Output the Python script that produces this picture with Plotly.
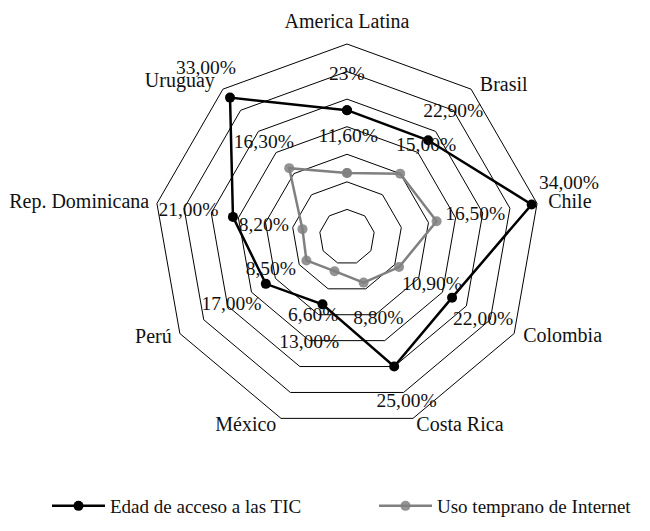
import plotly.graph_objects as go

categories = ["America Latina", "Brasil", "Chile", "Colombia", "Costa Rica",
              "México", "Perú", "Rep. Dominicana", "Uruguay"]
edad_acceso = [23.0, 22.9, 34.0, 22.0, 25.0, 13.0, 17.0, 21.0, 33.0]
uso_temprano = [11.6, 15.0, 16.5, 10.9, 8.8, 6.6, 8.5, 8.2, 16.3]
edad_labels = ["23%", "22,90%", "34,00%", "22,00%", "25,00%", "13,00%",
               "17,00%", "21,00%", "33,00%"]
uso_labels = ["11,60%", "15,00%", "16,50%", "10,90%", "8,80%", "6,60%",
              "8,50%", "8,20%", "16,30%"]
radial_ticks = [0, 5, 10, 15, 20, 25, 30, 35]

# label placement (layout only): radius / angle (deg, clockwise from top)
edad_lab_r = [29.4, 29.8, 41.4, 28.9, 31.9, 20.5, 24.3, 29.1, 39.7]
edad_lab_t = [0.0, 40.3, 76.5, 121.3, 160.2, 199.5, 239.5, 279.1, 319.9]
uso_lab_r = [18.2, 21.8, 23.6, 17.7, 16.0, 15.6, 15.1, 15.2, 22.8]
uso_lab_t = [0.7, 41.2, 80.2, 119.5, 159.2, 203.1, 246.2, 277.5, 318.6]
cat_lab_r = [38.9, 36.5, 37.0, 36.7, 40.0, 38.85, 36.7, 36.4, 36.9]
cat_lab_t = [0.0, 41.3, 80.5, 119.5, 149.2, 208.2, 240.0, 279.7, 319.5]
cat_lab_pos = ["middle center", "middle right", "middle right", "middle right",
               "middle center", "middle center", "middle left", "middle left",
               "middle left"]

FONT = "Liberation Serif"
TXT = "#111"
rmax = radial_ticks[-1]
label_rmax = 41.5

# page body has an 8px margin: figure is drawn 8px in from the window corner
W, H = 642, 523
CX, CY, R = 339, 229, 193  # polar centre / radius in figure pixels (layout)


def domain(radius):
    return dict(x=[max(0, (CX - radius) / W), min(1, (CX + radius) / W)],
                y=[max(0, (H - CY - radius) / H), min(1, (H - CY + radius) / H)])


fig = go.Figure()
closed_cats = categories + categories[:1]

fig.add_trace(go.Scatterpolar(
    r=edad_acceso + edad_acceso[:1], theta=closed_cats,
    mode="lines+markers", name="Edad de acceso a las TIC",
    line=dict(color="black", width=2.5),
    marker=dict(color="black", size=10),
    subplot="polar", cliponaxis=False, legend="legend",
))
fig.add_trace(go.Scatterpolar(
    r=uso_temprano + uso_temprano[:1], theta=closed_cats,
    mode="lines+markers", name="Uso temprano de Internet",
    line=dict(color="rgb(128,128,128)", width=2.5),
    marker=dict(color="rgba(128,128,128,0.85)", size=10),
    subplot="polar", cliponaxis=False, legend="legend2",
))

for rr, tt, txt, pos, fs in [
    (edad_lab_r, edad_lab_t, edad_labels, "middle center", 19.5),
    (uso_lab_r, uso_lab_t, uso_labels, "middle center", 19.5),
    (cat_lab_r, cat_lab_t, categories, cat_lab_pos, 20),
]:
    fig.add_trace(go.Scatterpolar(
        r=rr, theta=tt, mode="text", text=txt, textposition=pos,
        textfont=dict(family=FONT, size=fs, color=TXT),
        showlegend=False, subplot="polar2", cliponaxis=False, hoverinfo="skip",
    ))

legend_style = dict(orientation="h", xanchor="left", yanchor="middle",
                    y=(H - 498) / H, itemwidth=53,
                    font=dict(family=FONT, size=19, color=TXT),
                    bgcolor="rgba(0,0,0,0)")

fig.update_layout(
    width=W, height=H,
    margin=dict(l=0, r=0, t=0, b=0, autoexpand=False),
    paper_bgcolor="white",
    font=dict(family=FONT, color=TXT),
    polar=dict(
        domain=domain(R),
        bgcolor="rgba(0,0,0,0)",
        gridshape="linear",
        radialaxis=dict(range=[0, rmax], tickvals=radial_ticks, showticklabels=False,
                        ticks="", showline=False, gridcolor="black", gridwidth=1),
        angularaxis=dict(type="category", categoryarray=categories, rotation=90,
                         direction="clockwise", showgrid=False, showline=True,
                         linecolor="black", linewidth=1, ticks="",
                         showticklabels=False),
    ),
    polar2=dict(
        domain=domain(R * label_rmax / rmax),
        bgcolor="rgba(0,0,0,0)",
        radialaxis=dict(range=[0, label_rmax], visible=False),
        angularaxis=dict(rotation=90, direction="clockwise", visible=False),
    ),
    showlegend=True,
    legend=dict(x=39 / W, **legend_style),
    legend2=dict(x=366 / W, **legend_style),
)

fig.write_html("out.html")
